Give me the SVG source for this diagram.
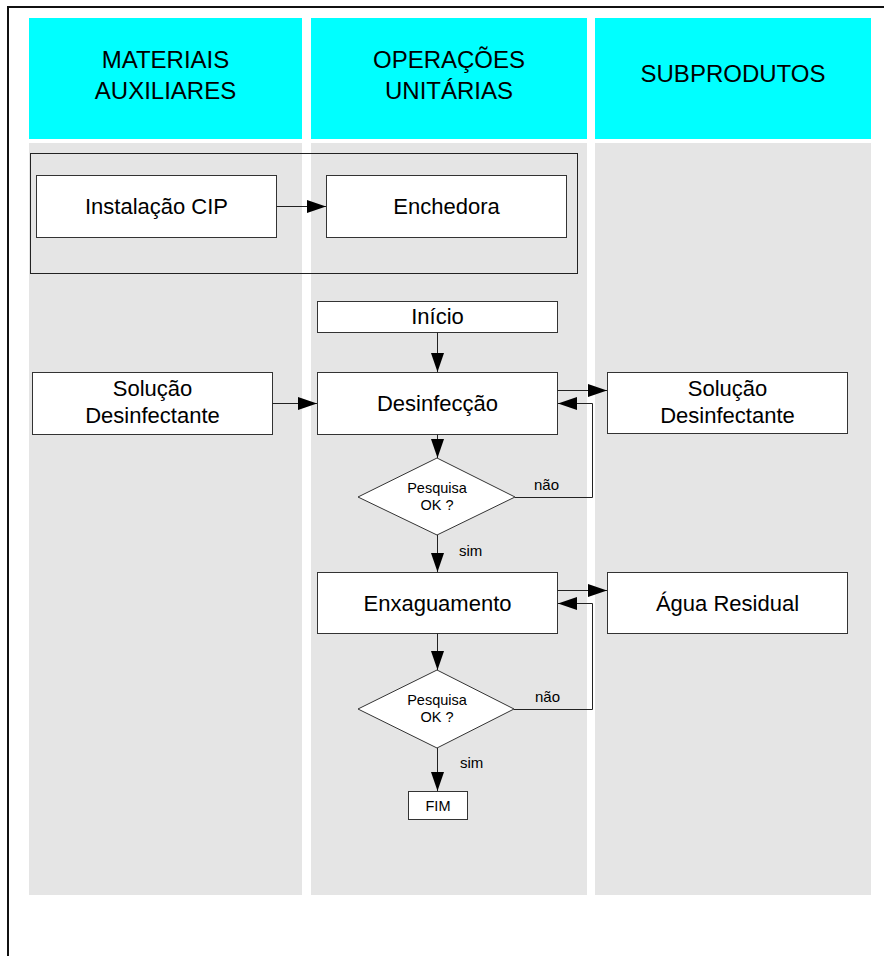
<svg xmlns="http://www.w3.org/2000/svg" width="884" height="956" viewBox="0 0 884 956">
  <style>
    text { font-family: "Liberation Sans", Arial, sans-serif; fill: #000; text-anchor: middle; }
    .hdr { fill: #00ffff; }
    .lane { fill: #e5e5e5; }
    .hdr-t { font-size: 24px; }
    .box { fill: #ffffff; stroke: #333333; stroke-width: 1; }
    .box-t { font-size: 22px; }
    .dec-t { font-size: 14.5px; }
    .lbl { font-size: 15px; text-anchor: start; }
    .edge { fill: none; stroke: #222222; stroke-width: 1; }
  </style>
  <defs>
    <marker id="arrow" markerUnits="userSpaceOnUse" markerWidth="20" markerHeight="14" refX="19" refY="6.5" orient="auto">
      <path d="M0,0 L19,6.5 L0,13 Z" fill="#000"/>
    </marker>
  </defs>

  <!-- outer frame (top and left edges) -->
  <path d="M8,956 V7 H884" fill="none" stroke="#111" stroke-width="2"/>

  <!-- swimlanes -->
  <g id="lanes">
    <rect class="hdr" x="29" y="18" width="273" height="121"/>
    <rect class="hdr" x="311" y="18" width="276" height="121"/>
    <rect class="hdr" x="595" y="18" width="276" height="121"/>
    <rect class="lane" x="29" y="143" width="273" height="752"/>
    <rect class="lane" x="311" y="143" width="276" height="752"/>
    <rect class="lane" x="595" y="143" width="276" height="752"/>
    <text class="hdr-t" x="165.5" y="68">MATERIAIS</text>
    <text class="hdr-t" x="165.5" y="99">AUXILIARES</text>
    <text class="hdr-t" x="449" y="68">OPERAÇÕES</text>
    <text class="hdr-t" x="449" y="99">UNITÁRIAS</text>
    <text class="hdr-t" x="733" y="82">SUBPRODUTOS</text>
  </g>

  <!-- equipment group frame -->
  <rect id="grupo" x="30.5" y="153.5" width="547" height="120" fill="none" stroke="#222" stroke-width="1"/>

  <g id="instalacao-cip">
    <rect class="box" x="36.5" y="175.5" width="240" height="62"/>
    <text class="box-t" x="156.5" y="214">Instalação CIP</text>
  </g>
  <g id="enchedora">
    <rect class="box" x="326.5" y="175.5" width="240" height="62"/>
    <text class="box-t" x="446.5" y="214">Enchedora</text>
  </g>

  <g id="inicio">
    <rect class="box" x="317.5" y="301.5" width="240" height="31"/>
    <text class="box-t" x="437.5" y="324">Início</text>
  </g>
  <g id="solucao-entrada">
    <rect class="box" x="32.5" y="372.5" width="240" height="62"/>
    <text class="box-t" x="152.5" y="396">Solução</text>
    <text class="box-t" x="152.5" y="423">Desinfectante</text>
  </g>
  <g id="desinfeccao">
    <rect class="box" x="317.5" y="372.5" width="240" height="62"/>
    <text class="box-t" x="437.5" y="411">Desinfecção</text>
  </g>
  <g id="solucao-saida">
    <rect class="box" x="607.5" y="372.5" width="240" height="61"/>
    <text class="box-t" x="727.5" y="396">Solução</text>
    <text class="box-t" x="727.5" y="423">Desinfectante</text>
  </g>
  <g id="pesquisa-1">
    <polygon class="box" points="437,458 515,497 437,535 358,497"/>
    <text class="dec-t" x="437" y="493">Pesquisa</text>
    <text class="dec-t" x="437" y="510">OK ?</text>
  </g>
  <g id="enxaguamento">
    <rect class="box" x="317.5" y="572.5" width="240" height="61"/>
    <text class="box-t" x="437.5" y="611">Enxaguamento</text>
  </g>
  <g id="agua-residual">
    <rect class="box" x="607.5" y="572.5" width="240" height="61"/>
    <text class="box-t" x="727.5" y="611">Água Residual</text>
  </g>
  <g id="pesquisa-2">
    <polygon class="box" points="437,670 514,709 437,748 358,709"/>
    <text class="dec-t" x="437" y="705">Pesquisa</text>
    <text class="dec-t" x="437" y="722">OK ?</text>
  </g>
  <g id="fim">
    <rect class="box" x="408.5" y="791.5" width="59" height="28"/>
    <text class="dec-t" x="438" y="811">FIM</text>
  </g>

  <!-- connectors -->
  <g id="connectors">
    <path class="edge" d="M276.5,206.5 H326" marker-end="url(#arrow)"/>
    <path class="edge" d="M437.5,332.5 V372" marker-end="url(#arrow)"/>
    <path class="edge" d="M272.5,403.5 H317" marker-end="url(#arrow)"/>
    <path class="edge" d="M557.5,390.5 H607" marker-end="url(#arrow)"/>
    <path class="edge" d="M515,497.5 H592.5 V403.5 H558" marker-end="url(#arrow)"/>
    <path class="edge" d="M437.5,434.5 V458" marker-end="url(#arrow)"/>
    <path class="edge" d="M437.5,535 V572" marker-end="url(#arrow)"/>
    <path class="edge" d="M557.5,590.5 H607" marker-end="url(#arrow)"/>
    <path class="edge" d="M514,709.5 H592.5 V603.5 H558" marker-end="url(#arrow)"/>
    <path class="edge" d="M437.5,633.5 V670" marker-end="url(#arrow)"/>
    <path class="edge" d="M437.5,748 V791" marker-end="url(#arrow)"/>
    <text class="lbl" x="534" y="490">não</text>
    <text class="lbl" x="459" y="556">sim</text>
    <text class="lbl" x="535" y="702">não</text>
    <text class="lbl" x="460" y="768">sim</text>
  </g>
</svg>
